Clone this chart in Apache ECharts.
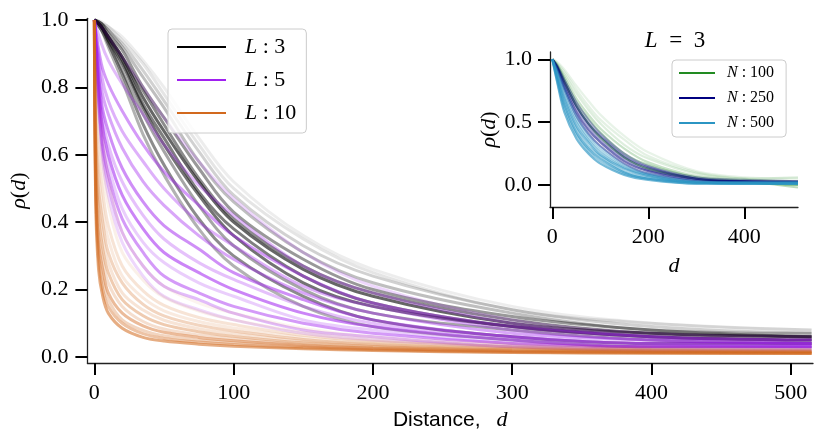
<!DOCTYPE html>
<html><head><meta charset="utf-8">
<script src="https://cdn.jsdelivr.net/npm/echarts@6/dist/echarts.min.js"></script>
<style>html,body{margin:0;padding:0;background:#fff}#c{width:830px;height:436px}</style>
</head><body><div id="c"></div>
<script>
// ---------------- DATA ----------------
// Main panel: distance sample points
const X_MAIN = [0, 5, 10, 20, 35, 50, 75, 100, 150, 200, 300, 400, 515];
const X_L10  = [0, 1, 3, 6, 10, 20, 35, 50, 75, 100, 150, 200, 300, 400, 515];
const X_TICKS_MAIN = [0, 100, 200, 300, 400, 500];
const Y_TICKS_MAIN = [0, 0.2, 0.4, 0.6, 0.8, 1.0];

const L3_LINES = [
  [1,.97,.92,.82,.66,.54,.38,.27,.15,.09,.05,.03,.03],
  [1,.97,.93,.84,.69,.57,.41,.30,.18,.11,.06,.04,.04],
  [1,.98,.94,.85,.72,.61,.45,.33,.20,.13,.08,.05,.04],
  [1,.98,.94,.87,.74,.63,.48,.36,.22,.15,.09,.06,.05],
  [1,.98,.95,.88,.75,.65,.49,.38,.24,.16,.09,.06,.05],
  [1,.98,.95,.89,.77,.67,.52,.40,.26,.18,.10,.07,.06],
  [1,.98,.95,.89,.79,.69,.53,.41,.27,.19,.11,.07,.06],
  [1,.99,.96,.91,.80,.71,.56,.43,.29,.20,.12,.08,.06],
  [1,.99,.97,.92,.83,.74,.58,.46,.31,.22,.13,.08,.07],
  [1,.99,.97,.93,.85,.76,.61,.48,.33,.24,.14,.09,.07],
  [1,.99,.98,.94,.87,.78,.63,.50,.35,.25,.14,.10,.08],
  [1,.995,.98,.95,.88,.80,.65,.52,.36,.26,.15,.10,.08]
];
const L5_LINES = [
  [1,.62,.48,.34,.24,.18,.14,.11,.07,.05,.03,.02,.02],
  [1,.64,.51,.37,.27,.21,.17,.13,.08,.06,.03,.02,.02],
  [1,.66,.54,.41,.31,.24,.19,.15,.10,.07,.04,.03,.03],
  [1,.69,.57,.44,.34,.28,.22,.18,.11,.08,.04,.03,.03],
  [1,.71,.60,.48,.38,.31,.25,.20,.13,.09,.05,.03,.03],
  [1,.74,.63,.52,.42,.35,.28,.23,.15,.10,.06,.04,.03],
  [1,.76,.67,.56,.46,.39,.32,.25,.17,.11,.06,.04,.04],
  [1,.80,.72,.62,.52,.45,.36,.29,.19,.13,.07,.05,.04],
  [1,.84,.76,.67,.58,.50,.40,.33,.21,.15,.08,.05,.04],
  [1,.87,.81,.73,.63,.55,.45,.36,.24,.16,.09,.06,.05],
  [1,.93,.88,.81,.72,.63,.51,.42,.27,.19,.10,.06,.05],
  [1,.98,.95,.89,.80,.71,.58,.47,.31,.21,.11,.07,.06]
];
const L10_LINES = [
  [1,.45,.26,.18,.13,.085,.058,.047,.038,.032,.024,.019,.013,.011,.010],
  [1,.47,.29,.20,.15,.10,.069,.055,.044,.037,.027,.021,.014,.012,.011],
  [1,.50,.31,.23,.17,.11,.079,.063,.050,.042,.030,.023,.016,.013,.012],
  [1,.52,.34,.26,.19,.13,.092,.073,.058,.048,.034,.026,.017,.014,.012],
  [1,.55,.37,.29,.22,.15,.105,.083,.065,.054,.037,.028,.019,.015,.013],
  [1,.59,.42,.32,.25,.17,.122,.096,.075,.061,.042,.031,.021,.017,.015],
  [1,.62,.46,.36,.28,.19,.139,.109,.084,.069,.047,.035,.023,.018,.016],
  [1,.66,.50,.40,.31,.22,.156,.122,.094,.077,.052,.038,.025,.020,.017],
  [1,.70,.55,.44,.35,.24,.175,.137,.105,.086,.058,.042,.028,.021,.018],
  [1,.74,.60,.49,.39,.27,.196,.153,.117,.096,.064,.046,.031,.023,.020],
  [1,.81,.68,.56,.45,.31,.228,.177,.136,.110,.073,.052,.035,.026,.022],
  [1,.90,.78,.66,.53,.37,.270,.210,.160,.130,.085,.060,.040,.030,.025]
];

// Inset panel (L = 3)
const X_INSET = [0, 10, 25, 50, 75, 100, 150, 200, 300, 400, 512];
const X_TICKS_INSET = [0, 200, 400];
const Y_TICKS_INSET = [0, 0.5, 1.0];
const N100_LINES = [
  [1,.94,.82,.63,.49,.38,.22,.13,.05,.02,.00],
  [1,.95,.84,.66,.53,.42,.25,.16,.06,.03,-.02],
  [1,.96,.86,.69,.56,.45,.29,.18,.07,.04,.03],
  [1,.96,.88,.73,.60,.49,.32,.21,.09,.05,.06],
  [1,.97,.90,.76,.63,.52,.36,.23,.10,.05,.02],
  [1,.98,.92,.79,.67,.56,.39,.26,.11,.06,.05]
];
const N250_LINES = [
  [1,.92,.76,.55,.41,.31,.17,.09,.03,.02,.02],
  [1,.93,.78,.58,.44,.34,.19,.11,.04,.03,.02],
  [1,.94,.80,.61,.47,.36,.21,.12,.05,.03,.02],
  [1,.94,.82,.63,.49,.39,.23,.14,.05,.03,.03],
  [1,.95,.84,.66,.52,.41,.25,.15,.06,.04,.03]
];
const N500_LINES = [
  [1,.82,.58,.37,.25,.17,.08,.04,.01,.01,.01],
  [1,.83,.61,.40,.27,.19,.09,.05,.01,.01,.01],
  [1,.85,.64,.42,.29,.21,.10,.05,.02,.01,.01],
  [1,.86,.66,.45,.31,.23,.11,.06,.02,.01,.01],
  [1,.88,.69,.47,.34,.24,.13,.07,.02,.02,.02],
  [1,.89,.71,.50,.36,.26,.14,.08,.02,.02,.02],
  [1,.91,.74,.52,.38,.28,.15,.08,.03,.02,.02],
  [1,.92,.77,.55,.40,.30,.16,.09,.03,.02,.02]
];

// ---------------- STYLE ----------------
const SERIF = 'Liberation Serif';
const SANS = 'Liberation Sans';
const C_L3 = '#000000', C_L5 = '#a020f0', C_L10 = '#d2691e';
const C_N100 = '#228b22', C_N250 = '#000080', C_N500 = '#2b95c3';
const OP_L3 = [0.3, 0.45, 0.35, 0.55, 0.5, 0.6, 0.45, 0.4, 0.25, 0.18, 0.1, 0.07];
const OP_L5 = [0.18, 0.3, 0.45, 0.22, 0.55, 0.28, 0.5, 0.4, 0.35, 0.45, 0.3, 0.18];
const OP_L10 = [0.55, 0.4, 0.28, 0.45, 0.22, 0.35, 0.18, 0.28, 0.14, 0.18, 0.1, 0.07];
const OP_N100 = [0.55, 0.3, 0.25, 0.15, 0.12, 0.1];
const OP_N250 = [0.45, 0.55, 0.35, 0.45, 0.3];
const OP_N500 = [0.65, 0.5, 0.65, 0.45, 0.6, 0.45, 0.35, 0.3];

function makeSeries(name, xs, lines, color, ops, idx, width) {
  return lines.map((ys, i) => ({
    type: 'line', name: name, xAxisIndex: idx, yAxisIndex: idx,
    data: xs.map((x, j) => [x, ys[j]]),
    showSymbol: false, symbol: 'none', smooth: 0.35,
    silent: true, animation: false,
    lineStyle: { color: color, width: width, opacity: ops[i % ops.length] },
    itemStyle: { color: color }
  }));
}

const richSerif = {
  i: { fontFamily: SERIF, fontStyle: 'italic', fontWeight: 'normal', fontSize: 22, color: '#000' },
  n: { fontFamily: SERIF, fontWeight: 'normal', fontSize: 22, color: '#000' },
  s: { fontFamily: SANS, fontWeight: 'normal', fontSize: 21, color: '#000' },
  g: { width: 16 },
  ti: { fontFamily: SERIF, fontStyle: 'italic', fontWeight: 'normal', fontSize: 23, color: '#000' },
  tn: { fontFamily: SERIF, fontWeight: 'normal', fontSize: 23, color: '#000' }
};
const richLegendSmall = {
  i: { fontFamily: SERIF, fontStyle: 'italic', fontSize: 16, color: '#000' },
  n: { fontFamily: SERIF, fontSize: 16, color: '#000' }
};
function legendFmt(name) {
  const p = name.split(' : ');
  return '{i|' + p[0] + '}{n| : ' + p[1] + '}';
}

const axisLineStyle = { color: '#222', width: 1.3 };
const tickStyle = { color: '#000', width: 2 };

const series = []
  .concat(makeSeries('L : 3', X_MAIN, L3_LINES, C_L3, OP_L3, 0, 3))
  .concat(makeSeries('L : 5', X_MAIN, L5_LINES, C_L5, OP_L5, 0, 3))
  .concat(makeSeries('L : 10', X_L10, L10_LINES, C_L10, OP_L10, 0, 3))
  .concat(makeSeries('N : 100', X_INSET, N100_LINES, C_N100, OP_N100, 1, 2.2))
  .concat(makeSeries('N : 250', X_INSET, N250_LINES, C_N250, OP_N250, 1, 2.2))
  .concat(makeSeries('N : 500', X_INSET, N500_LINES, C_N500, OP_N500, 1, 2.2));

const option = {
  backgroundColor: '#fff',
  animation: false,
  title: {
    text: '{ti|L}{tn|\u2002=\u20023}', left: 670, top: 24, textAlign: 'center',
    textStyle: { fontWeight: 'normal', rich: richSerif }
  },
  grid: [
    { left: 84, top: 18.3, right: 17, bottom: 73 },
    { left: 550, top: 52, right: 32, bottom: 229 }
  ],
  xAxis: [
    { gridIndex: 0, type: 'value', min: -5, max: 516, splitLine: { show: false },
      axisLine: { show: true, onZero: false, lineStyle: axisLineStyle },
      axisTick: { show: true, length: 12, lineStyle: tickStyle, customValues: X_TICKS_MAIN },
      axisLabel: { customValues: X_TICKS_MAIN, margin: 19, fontFamily: SERIF, fontSize: 22, color: '#000' },
      name: '{s|Distance,}{g|}{i|d}', nameLocation: 'middle', nameGap: 41,
      nameTextStyle: { rich: richSerif } },
    { gridIndex: 1, type: 'value', min: -4.8, max: 512, splitLine: { show: false },
      axisLine: { show: true, onZero: false, lineStyle: axisLineStyle },
      axisTick: { show: true, length: 12, lineStyle: tickStyle, customValues: X_TICKS_INSET },
      axisLabel: { customValues: X_TICKS_INSET, margin: 19, fontFamily: SERIF, fontSize: 22, color: '#000' },
      name: '{i|d}', nameLocation: 'middle', nameGap: 48,
      nameTextStyle: { rich: richSerif } }
  ],
  yAxis: [
    { gridIndex: 0, type: 'value', min: -0.018, max: 1.005, splitLine: { show: false },
      axisLine: { show: true, onZero: false, lineStyle: axisLineStyle },
      axisTick: { show: true, length: 12, lineStyle: tickStyle, customValues: Y_TICKS_MAIN },
      axisLabel: { customValues: Y_TICKS_MAIN, margin: 19, fontFamily: SERIF, fontSize: 22, color: '#000',
        formatter: v => v.toFixed(1) },
      name: '{i|ρ}{n|(}{i|d}{n|)}', nameLocation: 'middle', nameGap: 56, nameRotate: 90,
      nameTextStyle: { rich: richSerif } },
    { gridIndex: 1, type: 'value', min: -0.175, max: 1.058, splitLine: { show: false },
      axisLine: { show: true, onZero: false, lineStyle: axisLineStyle },
      axisTick: { show: true, length: 12, lineStyle: tickStyle, customValues: Y_TICKS_INSET },
      axisLabel: { customValues: Y_TICKS_INSET, margin: 18, fontFamily: SERIF, fontSize: 22, color: '#000',
        formatter: v => v.toFixed(1) },
      name: '{i|ρ}{n|(}{i|d}{n|)}', nameLocation: 'middle', nameGap: 50, nameRotate: 90,
      nameTextStyle: { rich: richSerif } }
  ],
  legend: [
    { left: 168, top: 29, orient: 'vertical', selectedMode: false,
      itemWidth: 49, itemHeight: 2, itemGap: 11,
      padding: [7, 10, 9, 9],
      backgroundColor: 'rgba(255,255,255,0.8)', borderColor: '#cccccc', borderWidth: 1, borderRadius: 4,
      formatter: legendFmt,
      textStyle: { padding: [0, 0, 0, 14], lineHeight: 22, rich: richSerif },
      data: [
        { name: 'L : 3', icon: 'rect', itemStyle: { color: C_L3, opacity: 1 } },
        { name: 'L : 5', icon: 'rect', itemStyle: { color: C_L5, opacity: 1 } },
        { name: 'L : 10', icon: 'rect', itemStyle: { color: C_L10, opacity: 1 } }
      ] },
    { left: 672, top: 60, orient: 'vertical', selectedMode: false,
      itemWidth: 36, itemHeight: 2, itemGap: 7,
      padding: [4, 12, 5, 7],
      backgroundColor: 'rgba(255,255,255,0.8)', borderColor: '#cccccc', borderWidth: 1, borderRadius: 4,
      formatter: legendFmt,
      textStyle: { padding: [0, 0, 0, 7], lineHeight: 18, rich: richLegendSmall },
      data: [
        { name: 'N : 100', icon: 'rect', itemStyle: { color: C_N100, opacity: 1 } },
        { name: 'N : 250', icon: 'rect', itemStyle: { color: C_N250, opacity: 1 } },
        { name: 'N : 500', icon: 'rect', itemStyle: { color: C_N500, opacity: 1 } }
      ] }
  ],
  series: series
};

const chart = echarts.init(document.getElementById('c'));
chart.setOption(option);
</script></body></html>
